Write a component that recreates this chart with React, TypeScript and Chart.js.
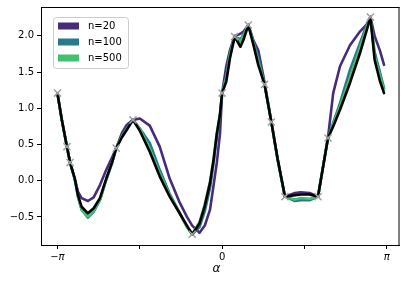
import React, { useEffect, useRef } from "react";
import { Chart, registerables } from "chart.js";

Chart.register(...registerables);

const PI = Math.PI;

// shared x grid (radians)
const xGrid = [-3.14, -3.06, -2.96, -2.90, -2.81, -2.75, -2.68, -2.56, -2.45, -2.33, -2.21, -2.10, -2.02, -1.91, -1.82, -1.70, -1.57, -1.38, -1.19, -1.00, -0.81, -0.67, -0.57, -0.43, -0.33, -0.23, -0.16, -0.10, -0.04, 0.00, 0.08, 0.15, 0.24, 0.35, 0.41, 0.50, 0.59, 0.69, 0.81, 0.94, 1.06, 1.20, 1.39, 1.50, 1.67, 1.83, 2.02, 2.12, 2.25, 2.44, 2.63, 2.76, 2.83, 2.91, 3.01, 3.09];

const yTrue = [1.20, 0.85, 0.47, 0.25, 0.03, -0.20, -0.36, -0.45, -0.38, -0.24, 0.03, 0.25, 0.45, 0.60, 0.70, 0.84, 0.69, 0.40, 0.06, -0.22, -0.45, -0.62, -0.74, -0.59, -0.35, -0.03, 0.30, 0.65, 0.91, 1.21, 1.37, 1.69, 1.99, 1.85, 1.95, 2.15, 1.90, 1.60, 1.33, 0.81, 0.30, -0.22, -0.20, -0.19, -0.19, -0.22, 0.59, 0.75, 0.98, 1.35, 1.76, 2.08, 2.26, 1.67, 1.38, 1.21];

const yN500 = [1.20, 0.85, 0.47, 0.25, 0.02, -0.22, -0.40, -0.50, -0.42, -0.26, 0.02, 0.25, 0.45, 0.61, 0.71, 0.84, 0.72, 0.44, 0.10, -0.20, -0.45, -0.64, -0.74, -0.57, -0.32, -0.01, 0.31, 0.66, 0.93, 1.21, 1.42, 1.74, 1.99, 1.92, 2.00, 2.15, 1.92, 1.65, 1.33, 0.81, 0.29, -0.22, -0.26, -0.24, -0.25, -0.22, 0.59, 0.78, 1.03, 1.42, 1.84, 2.12, 2.26, 1.72, 1.45, 1.26];

const yN100 = [1.20, 0.85, 0.47, 0.25, 0.02, -0.22, -0.40, -0.51, -0.43, -0.27, 0.01, 0.24, 0.45, 0.62, 0.72, 0.84, 0.72, 0.52, 0.15, -0.18, -0.44, -0.64, -0.74, -0.64, -0.42, -0.10, 0.25, 0.60, 0.90, 1.21, 1.44, 1.76, 1.99, 1.95, 2.02, 2.15, 1.95, 1.70, 1.33, 0.81, 0.29, -0.22, -0.28, -0.27, -0.27, -0.22, 0.59, 0.80, 1.07, 1.53, 1.90, 2.15, 2.26, 1.78, 1.50, 1.28];

const yN20 = [1.20, 0.85, 0.47, 0.25, 0.02, -0.15, -0.24, -0.28, -0.23, -0.06, 0.15, 0.32, 0.45, 0.66, 0.77, 0.84, 0.86, 0.76, 0.47, 0.03, -0.30, -0.50, -0.62, -0.72, -0.62, -0.40, -0.05, 0.25, 0.65, 1.21, 1.58, 1.80, 2.00, 2.03, 2.06, 2.15, 1.95, 1.80, 1.36, 0.81, 0.30, -0.22, -0.17, -0.16, -0.17, -0.22, 0.59, 1.21, 1.58, 1.87, 2.06, 2.16, 2.26, 2.00, 1.80, 1.60];

const crossX = [-3.14, -2.96, -2.90, -2.02, -1.70, -0.57, 0.00, 0.24, 0.50, 0.81, 0.94, 1.20, 1.83, 2.02, 2.83];
const crossY = [1.21, 0.47, 0.25, 0.45, 0.84, -0.74, 1.21, 1.99, 2.15, 1.33, 0.81, -0.22, -0.22, 0.59, 2.26];

const seriesLabels = ["n=20", "n=100", "n=500"];
const seriesColors = ["#472c7a", "#2a788e", "#43bf71"];

const xTickValues = [-PI, -PI / 2, 0, PI / 2, PI];
const xTickLabels = ["\u2212\u03c0", "", "0", "", "\u03c0"];
const yTickValues = [-0.5, 0, 0.5, 1, 1.5, 2];
const yTickLabels = ["\u22120.5", "0.0", "0.5", "1.0", "1.5", "2.0"];

const FONT = "'DejaVu Sans', sans-serif";

const pts = (ys: number[]) => xGrid.map((x, i) => ({ x, y: ys[i] }));

const framePlugin = {
  id: "frame",
  afterDatasetsDraw(chart: any) {
    const { ctx, chartArea: a } = chart;
    ctx.save();
    ctx.strokeStyle = "#000";
    ctx.lineWidth = 1;
    ctx.beginPath();
    ctx.moveTo(a.left, a.top + 0.5);
    ctx.lineTo(a.right, a.top + 0.5);
    ctx.moveTo(a.right - 0.5, a.top);
    ctx.lineTo(a.right - 0.5, a.bottom);
    ctx.stroke();
    ctx.restore();
  },
  afterDraw(chart: any) {
    const { ctx } = chart;
    ctx.save();
    const bx = 53.5, by = 17.5, bw = 75, bh = 51, r = 3;
    ctx.beginPath();
    ctx.moveTo(bx + r, by);
    ctx.lineTo(bx + bw - r, by);
    ctx.arcTo(bx + bw, by, bx + bw, by + r, r);
    ctx.lineTo(bx + bw, by + bh - r);
    ctx.arcTo(bx + bw, by + bh, bx + bw - r, by + bh, r);
    ctx.lineTo(bx + r, by + bh);
    ctx.arcTo(bx, by + bh, bx, by + bh - r, r);
    ctx.lineTo(bx, by + r);
    ctx.arcTo(bx, by, bx + r, by, r);
    ctx.closePath();
    ctx.fillStyle = "rgba(255,255,255,0.8)";
    ctx.fill();
    ctx.strokeStyle = "#cccccc";
    ctx.lineWidth = 1;
    ctx.stroke();
    ctx.font = "10px " + FONT;
    ctx.textBaseline = "middle";
    ctx.textAlign = "left";
    seriesLabels.forEach((lab, i) => {
      const cy = 26 + i * 16;
      ctx.fillStyle = seriesColors[i];
      ctx.fillRect(58, cy - 3.5, 21, 7);
      ctx.fillStyle = "#000";
      ctx.fillText(lab, 88, cy + 0.5);
    });
    ctx.restore();
  },
};

export default function App() {
  const ref = useRef<HTMLCanvasElement>(null);
  useEffect(() => {
    if (!ref.current) return;
    const lineDs = (ys: number[], color: string, order: number, w: number) => ({
      type: "line" as const,
      data: pts(ys),
      borderColor: color,
      backgroundColor: color,
      borderWidth: w,
      pointRadius: 0,
      tension: 0,
      fill: false,
      order,
      borderCapStyle: "round" as const,
      borderJoinStyle: "round" as const,
    });
    const chart = new Chart(ref.current, {
      type: "line",
      data: {
        datasets: [
          {
            type: "scatter",
            data: crossX.map((x, i) => ({ x, y: crossY[i] })),
            pointStyle: "crossRot",
            pointRadius: 5,
            borderColor: "#a0a0a0",
            backgroundColor: "#a0a0a0",
            borderWidth: 1.5,
            showLine: false,
            order: 0,
          } as any,
          lineDs(yTrue, "#000000", 1, 2.6),
          lineDs(yN500, seriesColors[2], 2, 2.6),
          lineDs(yN100, seriesColors[1], 3, 2.6),
          lineDs(yN20, seriesColors[0], 4, 2.6),
        ],
      },
      options: {
        responsive: false,
        animation: false,
        events: [],
        layout: { padding: { top: 7, right: 8.5, left: 0, bottom: 0 } },
        plugins: { legend: { display: false }, tooltip: { enabled: false } },
        scales: {
          x: {
            type: "linear",
            min: -3.455,
            max: 3.385,
            afterBuildTicks: (s: any) => {
              s.ticks = xTickValues.map((v) => ({ value: v }));
            },
            afterFit: (s: any) => {
              s.height = 39;
              s.paddingLeft = 0;
              s.paddingRight = 0;
              s.paddingTop = 0;
              s.paddingBottom = 0;
            },
            ticks: {
              autoSkip: false,
              maxRotation: 0,
              padding: 2,
              color: "#000",
              font: (c: any) => ({
                family: FONT,
                size: 10,
                style: c.tick && Math.abs(c.tick.value) > 1 ? "italic" : "normal",
              }),
              callback: (v: any) => {
                const i = xTickValues.findIndex((t) => Math.abs(t - v) < 1e-6);
                return i >= 0 ? xTickLabels[i] : "";
              },
            },
            grid: { drawOnChartArea: false, drawTicks: true, tickLength: 4, color: "#000", lineWidth: 1 },
            border: { display: true, color: "#000", width: 1 },
            title: {
              display: true,
              text: "\u03b1\u00a0\u00a0",
              color: "#000",
              font: { family: FONT, size: 12, style: "italic" },
              padding: { top: 0, bottom: 8 },
            },
          },
          y: {
            type: "linear",
            min: -0.888,
            max: 2.399,
            afterBuildTicks: (s: any) => {
              s.ticks = yTickValues.map((v) => ({ value: v }));
            },
            afterFit: (s: any) => {
              s.width = 41;
              s.paddingLeft = 0;
              s.paddingRight = 0;
              s.paddingTop = 0;
              s.paddingBottom = 0;
            },
            ticks: {
              autoSkip: false,
              padding: 3,
              color: "#000",
              font: { family: FONT, size: 10 },
              callback: (v: any) => {
                const i = yTickValues.findIndex((t) => Math.abs(t - v) < 1e-6);
                return i >= 0 ? yTickLabels[i] : "";
              },
            },
            grid: { drawOnChartArea: false, drawTicks: true, tickLength: 4, color: "#000", lineWidth: 1 },
            border: { display: true, color: "#000", width: 1 },
          },
        },
      },
      plugins: [framePlugin],
    } as any);
    return () => chart.destroy();
  }, []);
  return (
    <div style={{ position: "absolute", left: 0, top: 0, width: 408, height: 284, background: "#fff" }}>
      <canvas ref={ref} width={408} height={284} style={{ display: "block" }} />
    </div>
  );
}
